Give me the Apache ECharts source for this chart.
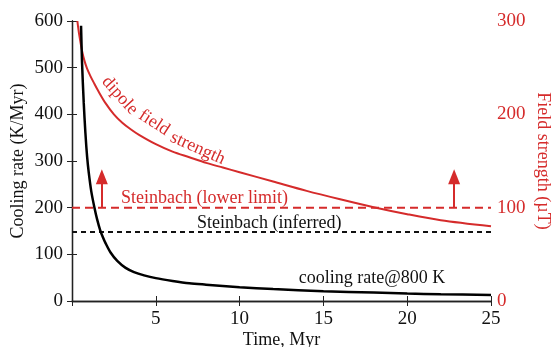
<!DOCTYPE html>
<html>
<head>
<meta charset="utf-8">
<script src="https://cdn.jsdelivr.net/npm/echarts@6/dist/echarts.min.js"></script>
<style>
  html, body { margin: 0; padding: 0; background: #fff; }
  #main { width: 553px; height: 347px; }
</style>
</head>
<body>
<div id="main"></div>
<script>
// cooling rate @800 K (K/Myr), left axis
const coolT = [0.54, 0.6, 0.7, 0.8, 0.9, 1.0, 1.15, 1.34, 1.5, 1.68, 1.85, 2.0, 2.3, 2.7, 3.2, 3.7, 4.3, 5, 6, 7, 8, 10, 12, 15, 18, 20, 22, 25];
const coolRate = [590, 510, 425, 360, 310, 275, 235, 200, 175, 152, 136, 124, 104, 86, 71, 62, 55, 49, 43, 38, 35, 29.5, 25.5, 21, 18, 16, 14.5, 13];

// dipole field strength (uT), right axis
const fieldT = [0.32, 0.4, 0.5, 0.6, 0.75, 0.9, 1.1, 1.3, 1.6, 2.0, 2.5, 3, 3.5, 4, 5, 6, 7, 8, 9, 10, 12, 14, 16, 18, 20, 22, 25];
const fieldVal = [300, 289, 278, 268, 257, 249, 241, 234, 224, 212, 200, 191, 184, 178, 168, 160, 154, 148, 143, 138, 128, 118, 109, 100.5, 93, 86.5, 80];

// reference levels (left axis units)
const steinbachLower = 200;
const steinbachInferred = 148;
const arrowT = [1.78, 22.8];
const arrowTop = 266;

const xTicks = [0, 5, 10, 15, 20, 25];
const leftTicks = [0, 100, 200, 300, 400, 500, 600];
const rightTicks = [0, 100, 200, 300];

const RED = '#d52b2b';
const FONT = 'Liberation Serif';

const chart = echarts.init(document.getElementById('main'));

const pair = (xs, ys) => xs.map((x, i) => [x, ys[i]]);

const option = {
  animation: false,
  backgroundColor: '#fff',
  textStyle: { fontFamily: FONT },
  grid: { left: 72, right: 62, top: 21, bottom: 46, outerBoundsMode: 'none', containLabel: false },
  xAxis: [
    {
      type: 'value', min: xTicks[0], max: xTicks[xTicks.length - 1], interval: 5,
      name: 'Time, Myr', nameLocation: 'middle', nameGap: 30, nameMoveOverlap: false,
      nameTextStyle: { fontSize: 18, color: '#111', fontFamily: FONT },
      axisLine: { lineStyle: { color: '#222', width: 1.3 } },
      axisTick: { inside: true, length: 5, lineStyle: { color: '#222' } },
      axisLabel: { fontSize: 19, color: '#111', margin: 9, fontFamily: FONT,
        formatter: v => (v === 0 ? '' : v) },
      splitLine: { show: false }
    },
    {
      type: 'value', position: 'top', min: 0, max: 25, interval: 5,
      axisLine: { show: true, lineStyle: { color: '#222', width: 1.3 } },
      axisTick: { inside: true, length: 5, lineStyle: { color: '#222' } },
      axisLabel: { show: false },
      splitLine: { show: false }
    }
  ],
  yAxis: [
    {
      type: 'value', min: 0, max: leftTicks[leftTicks.length - 1], interval: 100,
      name: 'Cooling rate (K/Myr)', nameLocation: 'middle', nameGap: 45, nameMoveOverlap: false,
      nameTextStyle: { fontSize: 18, color: '#111', fontFamily: FONT },
      axisLine: { show: true, lineStyle: { color: '#222', width: 1.3 } },
      axisTick: { show: true, inside: true, length: 5, lineStyle: { color: '#222' } },
      axisLabel: { fontSize: 19, color: '#111', margin: 9, fontFamily: FONT },
      splitLine: { show: false }
    },
    {
      type: 'value', position: 'right', min: 0, max: rightTicks[rightTicks.length - 1], interval: 50,
      name: 'Field strength (\u00b5T)', nameLocation: 'middle', nameGap: 43, nameRotate: -90,
      nameMoveOverlap: false,
      nameTextStyle: { fontSize: 18, color: RED, fontFamily: FONT },
      axisLine: { show: true, lineStyle: { color: '#222', width: 1.3 } },
      axisTick: { show: true, inside: true, length: 5, lineStyle: { color: '#222' } },
      axisLabel: { fontSize: 19, color: RED, margin: 6, fontFamily: FONT,
        formatter: v => (rightTicks.indexOf(v) >= 0 ? v : '') },
      splitLine: { show: false }
    }
  ],
  series: [
    {
      name: 'lower limit', type: 'line', yAxisIndex: 0,
      data: [[0, steinbachLower], [25, steinbachLower]],
      showSymbol: false, silent: true,
      lineStyle: { color: RED, width: 2, type: [8, 5] },
      markLine: {
        silent: true, symbol: ['none', 'triangle'], symbolSize: [12, 15],
        lineStyle: { color: RED, width: 2, type: 'solid' },
        label: { show: false },
        data: arrowT.map(t => [{ coord: [t, steinbachLower] }, { coord: [t, arrowTop] }])
      }
    },
    {
      name: 'inferred', type: 'line', yAxisIndex: 0,
      data: [[0, steinbachInferred], [25, steinbachInferred]],
      showSymbol: false, silent: true,
      lineStyle: { color: '#111', width: 2, type: [5, 4] }
    },
    {
      name: 'field', type: 'line', yAxisIndex: 1, smooth: 0.3,
      data: pair(fieldT, fieldVal), showSymbol: false,
      lineStyle: { color: RED, width: 2 }
    },
    {
      name: 'cooling', type: 'line', yAxisIndex: 0, smooth: 0.3,
      data: pair(coolT, coolRate), showSymbol: false,
      lineStyle: { color: '#000', width: 2.5 }
    }
  ]
};

chart.setOption(option);

// text annotations, anchored in data coordinates (left axis)
const notes = [
  { text: 'dipole', at: [2.85, 440], rot: -48, color: RED },
  { text: 'field', at: [4.9, 382], rot: -33, color: RED },
  { text: 'strength', at: [7.5, 327], rot: -24, color: RED },
  { text: 'Steinbach (lower limit)', at: [7.9, 221], rot: 0, color: RED },
  { text: 'Steinbach (inferred)', at: [11.77, 167], rot: 0, color: '#111' },
  { text: 'cooling rate@800 K', at: [17.9, 49], rot: 0, color: '#111' }
];

chart.setOption({
  graphic: notes.map(n => {
    const p = chart.convertToPixel({ xAxisIndex: 0, yAxisIndex: 0 }, n.at);
    return {
      type: 'text', x: p[0], y: p[1], rotation: n.rot * Math.PI / 180,
      style: { text: n.text, fill: n.color, font: '18px "' + FONT + '"',
        align: 'center', verticalAlign: 'middle' }
    };
  })
});
</script>
</body>
</html>
